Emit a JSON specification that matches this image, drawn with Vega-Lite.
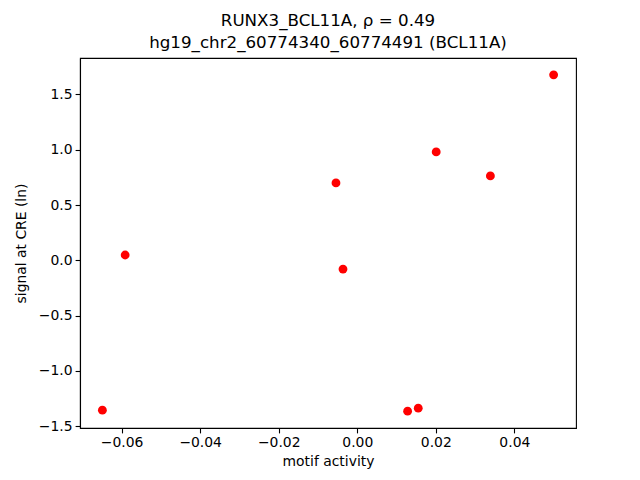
{
  "$schema": "https://vega.github.io/schema/vega-lite/v6.json",
  "autosize": "none",
  "width": 496,
  "height": 370,
  "padding": {"left": 80, "top": 58, "right": 64, "bottom": 52},
  "background": "white",
  "title": {
    "text": ["RUNX3_BCL11A, ρ = 0.49", "hg19_chr2_60774340_60774491 (BCL11A)"],
    "font": "DejaVu Sans",
    "fontSize": 16.7,
    "fontWeight": "normal",
    "color": "black",
    "anchor": "middle",
    "lineHeight": 22,
    "offset": 6
  },
  "data": {
    "values": [
      {"motif": 0.0500, "signal": 1.677},
      {"motif": 0.0201, "signal": 0.980},
      {"motif": 0.0339, "signal": 0.763},
      {"motif": -0.00542, "signal": 0.700},
      {"motif": -0.0591, "signal": 0.048},
      {"motif": -0.00363, "signal": -0.079},
      {"motif": -0.0649, "signal": -1.355},
      {"motif": 0.01282, "signal": -1.364},
      {"motif": 0.01553, "signal": -1.337}
    ]
  },
  "mark": {"type": "point", "filled": true, "color": "red", "opacity": 1, "size": 78},
  "encoding": {
    "x": {
      "field": "motif",
      "type": "quantitative",
      "scale": {"domain": [-0.0706, 0.0557], "nice": false, "zero": false},
      "axis": {
        "title": "motif activity",
        "values": [-0.06, -0.04, -0.02, 0, 0.02, 0.04],
        "format": ".2f"
      }
    },
    "y": {
      "field": "signal",
      "type": "quantitative",
      "scale": {"domain": [-1.516, 1.829], "nice": false, "zero": false},
      "axis": {
        "title": "signal at CRE (ln)",
        "values": [-1.5, -1.0, -0.5, 0, 0.5, 1.0, 1.5],
        "format": ".1f",
        "titlePadding": 10
      }
    }
  },
  "config": {
    "view": {"stroke": "black", "strokeWidth": 1.1},
    "axis": {
      "grid": false,
      "domainColor": "black",
      "domainWidth": 1.1,
      "tickColor": "black",
      "tickWidth": 1.1,
      "tickSize": 4.9,
      "labelPadding": 3,
      "labelFont": "DejaVu Sans",
      "labelFontSize": 13.9,
      "labelColor": "black",
      "titleFont": "DejaVu Sans",
      "titleFontSize": 13.9,
      "titleFontWeight": "normal",
      "titleColor": "black",
      "titlePadding": 5
    }
  }
}
